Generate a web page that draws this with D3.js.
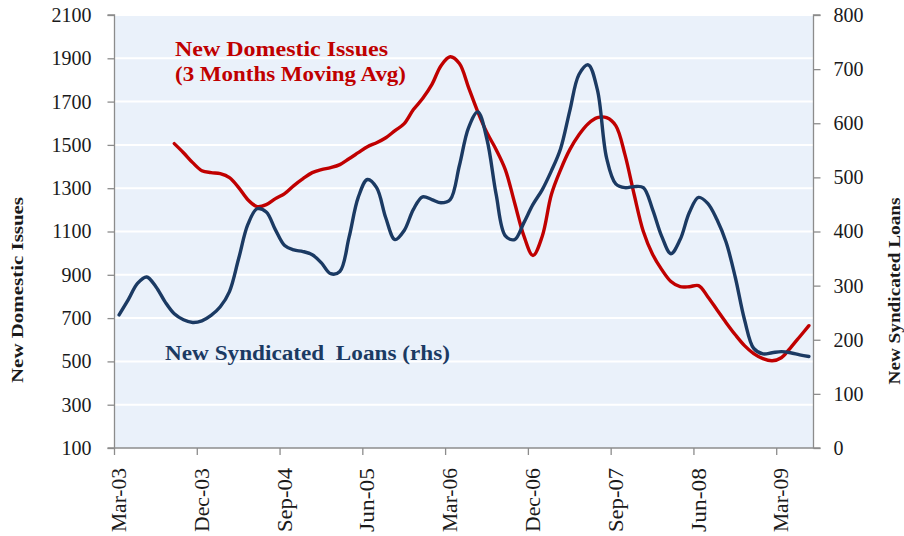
<!DOCTYPE html>
<html>
<head>
<meta charset="utf-8">
<script src="https://cdn.jsdelivr.net/npm/d3@7"></script>
<style>
  body { margin: 0; background: #fff; }
  svg { display: block; }
  text { font-family: "Liberation Serif", "DejaVu Serif", serif; }
</style>
</head>
<body>
<svg id="chart" width="904" height="536"></svg>
<script>
// monthly categories Mar-03 .. Jun-09
const months = d3.timeMonth.range(new Date(2003, 2, 1), new Date(2009, 6, 1));
const fmt = d3.timeFormat("%b-%y");
const categories = months.map(fmt);
const tickLabels = ["Mar-03", "Dec-03", "Sep-04", "Jun-05", "Mar-06", "Dec-06", "Sep-07", "Jun-08", "Mar-09"];

// new domestic issues, 3 month moving avg (lhs) - starts Sep-03
const domestic = [null, null, null, null, null, null,
  1506, 1464, 1418, 1381, 1372, 1367, 1349, 1303, 1247, 1215, 1224, 1252,
  1275, 1312, 1344, 1372, 1386, 1395, 1409, 1436, 1464, 1492, 1510, 1533,
  1566, 1598, 1663, 1714, 1778, 1866, 1907, 1876, 1765, 1653, 1556, 1478,
  1385, 1233, 1081, 989, 1077, 1271, 1385, 1478, 1547, 1598, 1626, 1626,
  1589, 1455, 1271, 1100, 995, 924, 869, 845, 845, 850, 799, 739,
  679, 623, 573, 536, 513, 503, 517, 563, 614, 665];

// new syndicated loans (rhs)
const syndicated = [246, 274, 304, 316, 298, 270, 248, 237, 232, 235, 245, 261,
  289, 350, 413, 442, 436, 403, 374, 366, 363, 357, 342, 322,
  326, 389, 463, 496, 481, 425, 385, 402, 441, 464, 459, 453,
  459, 522, 592, 621, 570, 468, 392, 385, 416, 450, 477, 512,
  553, 623, 690, 708, 662, 536, 488, 481, 483, 481, 441, 391,
  359, 385, 435, 463, 452, 422, 380, 315, 237, 184, 174, 176,
  178, 176, 172, 169];

const leftTicks = d3.range(100, 2101, 200);
const rightTicks = d3.range(0, 801, 100);

const svg = d3.select("#chart");
const x0 = 114.5, x1 = 813.5, y0 = 448, y1 = 15;

const xBand = d3.scaleBand().domain(categories).range([x0, x1]).paddingInner(0).paddingOuter(0);
const xPt = d3.scalePoint().domain(categories).range([x0, x1]).padding(0.5);
const yL = d3.scaleLinear().domain([100, 2100]).range([y0, y1]);
const yR = d3.scaleLinear().domain([0, 800]).range([y0, y1]);

const red = "#C00000", navy = "#1B3A63", axisCol = "#8C8C8C", txt = "#1a1a1a";

// plot background
svg.append("rect")
  .attr("x", x0).attr("y", y1)
  .attr("width", x1 - x0).attr("height", y0 - y1)
  .attr("fill", "#EAF1FA");

// gridlines
svg.append("g").selectAll("line")
  .data(leftTicks.slice(1))
  .join("line")
    .attr("x1", x0).attr("x2", x1)
    .attr("y1", d => yL(d)).attr("y2", d => yL(d))
    .attr("stroke", "#fff").attr("stroke-width", 2);

// left axis
const gL = svg.append("g").attr("transform", `translate(${x0},0)`)
  .call(d3.axisLeft(yL).tickValues(leftTicks).tickSize(7).tickPadding(16).tickFormat(d3.format("d")));
// right axis
const gR = svg.append("g").attr("transform", `translate(${x1},0)`)
  .call(d3.axisRight(yR).tickValues(rightTicks).tickSize(7).tickPadding(13).tickFormat(d3.format("d")));
// bottom axis
const bw = xBand.bandwidth();
const gB = svg.append("g").attr("transform", `translate(0,${y0})`)
  .call(d3.axisBottom(xBand).tickValues(tickLabels).tickSize(7).tickPadding(0));
gB.selectAll(".tick line").attr("x1", -bw / 2).attr("x2", -bw / 2);

[gL, gR, gB].forEach(g => {
  g.select(".domain").attr("stroke", axisCol).attr("stroke-width", 1.3);
  g.selectAll(".tick line").attr("stroke", axisCol).attr("stroke-width", 1.3);
  g.selectAll(".tick text").attr("fill", txt).style("font-size", "20px")
    .style("font-family", '"Liberation Serif", serif');
});
gB.selectAll(".tick text")
  .attr("transform", "rotate(-90)")
  .attr("text-anchor", "end")
  .attr("dominant-baseline", "central")
  .attr("x", -20).attr("y", 0)
  .attr("dy", null)
  .attr("textLength", 64).attr("lengthAdjust", "spacingAndGlyphs");
gL.select(".domain").attr("d", `M-7,${y0}H0V${y1}H-7`);
gR.select(".domain").attr("d", `M7,${y0}H0V${y1}H7`);
gB.select(".domain").attr("d", `M${x0},0H${x1}`);

// lines
const lineL = d3.line()
  .defined(d => d[1] != null)
  .x(d => xPt(d[0])).y(d => yL(d[1]))
  .curve(d3.curveCatmullRom.alpha(0.5));
const lineR = d3.line()
  .x(d => xPt(d[0])).y(d => yR(d[1]))
  .curve(d3.curveCatmullRom.alpha(0.5));

svg.append("path")
  .datum(categories.map((c, i) => [c, domestic[i]]))
  .attr("d", lineL)
  .attr("fill", "none").attr("stroke", red).attr("stroke-width", 3.4)
  .attr("stroke-linejoin", "round").attr("stroke-linecap", "round");

svg.append("path")
  .datum(categories.map((c, i) => [c, syndicated[i]]))
  .attr("d", lineR)
  .attr("fill", "none").attr("stroke", navy).attr("stroke-width", 3.4)
  .attr("stroke-linejoin", "round").attr("stroke-linecap", "round");

// labels inside plot
const addLabel = (x, y, col, str, len, size) => svg.append("text")
  .attr("x", x).attr("y", y)
  .attr("fill", col).attr("font-weight", "bold").style("font-size", size + "px")
  .attr("textLength", len).attr("lengthAdjust", "spacingAndGlyphs")
  .text(str);
addLabel(175, 56, red, "New Domestic Issues", 213, 20);
addLabel(175, 81, red, "(3 Months Moving Avg)", 231, 20);
addLabel(165, 360, navy, "New Syndicated  Loans (rhs)", 285, 20).attr("xml:space", "preserve");

// axis titles
svg.append("text")
  .attr("transform", "translate(23,290) rotate(-90)")
  .attr("text-anchor", "middle")
  .attr("fill", txt).attr("font-weight", "bold").style("font-size", "17px")
  .attr("textLength", 186).attr("lengthAdjust", "spacingAndGlyphs")
  .text("New Domestic Issues");
svg.append("text")
  .attr("transform", "translate(900,291) rotate(-90)")
  .attr("text-anchor", "middle")
  .attr("fill", txt).attr("font-weight", "bold").style("font-size", "17px")
  .attr("textLength", 187).attr("lengthAdjust", "spacingAndGlyphs")
  .text("New Syndicated Loans");
</script>
</body>
</html>
